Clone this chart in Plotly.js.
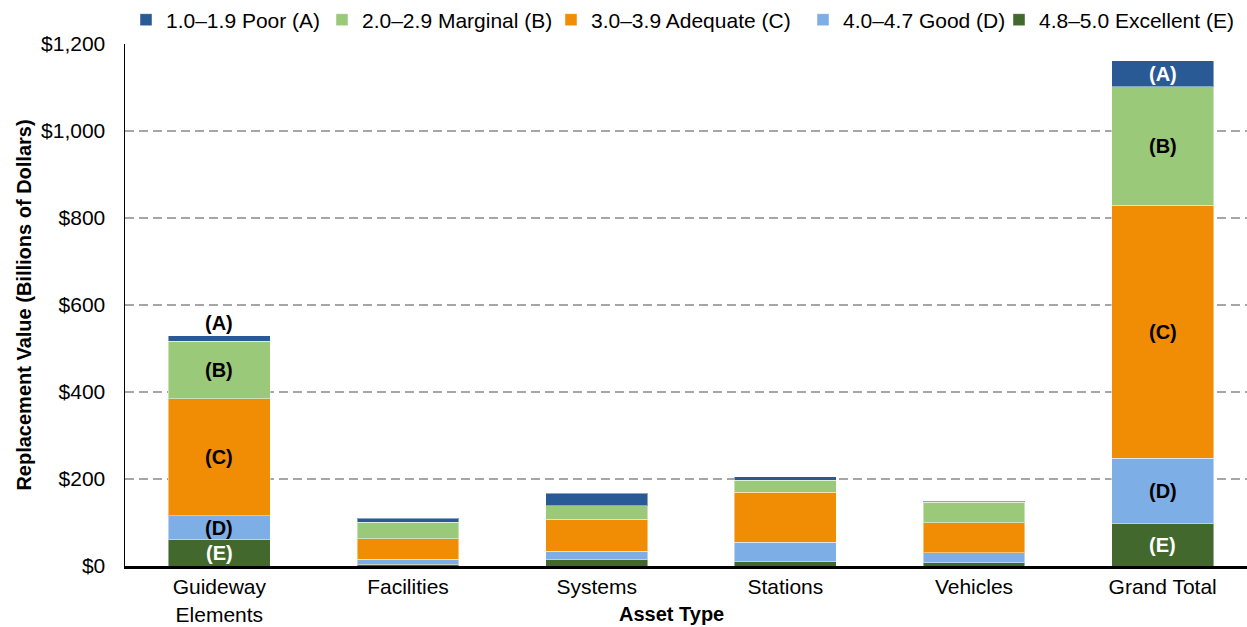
<!DOCTYPE html>
<html>
<head>
<meta charset="utf-8">
<script src="https://cdn.plot.ly/plotly-3.0.1.min.js"></script>
<style>html,body{margin:0;padding:0;background:#fff;}#chart{width:1247px;height:627px;}</style>
</head>
<body>
<div id="chart"></div>
<script>
const categories = ["Guideway<br>Elements", "Facilities", "Systems", "Stations", "Vehicles", "Grand Total"];
const seriesNames = ["1.0–1.9 Poor (A)", "2.0–2.9 Marginal (B)", "3.0–3.9 Adequate (C)", "4.0–4.7 Good (D)", "4.8–5.0 Excellent (E)"];
const letters = ["(A)", "(B)", "(C)", "(D)", "(E)"];
const excellentE = [60, 4, 15, 10, 7, 98];
const goodD = [55, 11, 19, 45, 23, 150];
const adequateC = [270, 48, 74, 115, 69, 581];
const marginalB = [132, 38, 30, 27, 47, 273];
const poorA = [12, 9, 29, 8, 3, 59];
const yTickVals = [0, 200, 400, 600, 800, 1000, 1200];
const yTickText = ["$0", "$200", "$400", "$600", "$800", "$1,000", "$1,200"];
const labeledCategories = ["Guideway<br>Elements", "Grand Total"];

const colors = ["#2A5A96", "#9BC97A", "#F08D05", "#7EAEE6", "#43682D"];
// stacking order bottom->top: E, D, C, B, A
const stackOrder = [4, 3, 2, 1, 0];
const seriesVals = [poorA, marginalB, adequateC, goodD, excellentE];
const FONT = "Liberation Sans, Arial, sans-serif";
// left pixel of each legend entry (one legend per series)
const legendLeftPx = [126, 322, 551, 803, 999];
const legendIds = ["legend", "legend2", "legend3", "legend4", "legend5"];

const traces = [];
for (const idx of stackOrder) {
  traces.push({
    type: "bar",
    name: seriesNames[idx],
    legend: legendIds[idx],
    x: categories,
    y: seriesVals[idx],
    marker: {color: colors[idx], line: {color: "rgba(255,255,255,0.45)", width: 1}},
    hoverinfo: "skip"
  });
}

const annotations = [];
for (const cat of labeledCategories) {
  const ci = categories.indexOf(cat);
  let base = 0;
  for (const idx of stackOrder) {
    const v = seriesVals[idx][ci];
    const isSmall = v < 30;
    const white = (idx === 4) || (idx === 0 && !isSmall);
    annotations.push({
      x: cat, y: isSmall ? base + v : base + v / 2,
      xref: "x", yref: "y",
      text: "<b>" + letters[idx] + "</b>",
      showarrow: false,
      yanchor: isSmall ? "bottom" : "middle",
      font: {family: FONT, size: 20, color: white ? "#ffffff" : "#000000"}
    });
    base += v;
  }
}
annotations.push({
  text: "<b>Asset Type</b>", showarrow: false,
  xref: "paper", x: 0.487, xanchor: "center",
  yref: "paper", y: (566 - 614) / 522, yanchor: "middle",
  font: {family: FONT, size: 20, color: "#000"}
});

const layout = {
  width: 1247, height: 627,
  margin: {l: 125, r: 0, t: 44, b: 61, autoexpand: false},
  paper_bgcolor: "#fff", plot_bgcolor: "#fff",
  barmode: "stack",
  bargap: 0.46,
  font: {family: FONT, size: 21, color: "#000"},
  showlegend: true,
  xaxis: {
    range: [-0.5, 5.447],
    showline: true, linecolor: "#000", linewidth: 3,
    ticks: "", showgrid: false, zeroline: false,
    tickfont: {size: 21}
  },
  yaxis: {
    range: [0, 1200],
    tickvals: yTickVals, ticktext: yTickText,
    showline: true, linecolor: "#000", linewidth: 1.5,
    ticks: "", ticklabelstandoff: 14,
    showgrid: true, gridcolor: "#a6a6a6", griddash: "9px,5px", gridwidth: 1.6,
    zeroline: false,
    tickfont: {size: 21},
    title: {text: "<b>Replacement Value (Billions of Dollars)</b>", font: {size: 20}, standoff: 4}
  },
  annotations: annotations
};
legendIds.forEach((id, i) => {
  layout[id] = {
    orientation: "h", xref: "container", x: legendLeftPx[i] / 1247, xanchor: "left",
    yref: "container", y: 1 - 20 / 627, yanchor: "middle",
    font: {family: FONT, size: 21, color: "#000"}, itemwidth: 30, bgcolor: "rgba(0,0,0,0)"
  };
});

Plotly.newPlot("chart", traces, layout, {displayModeBar: false, staticPlot: true});
</script>
</body>
</html>
